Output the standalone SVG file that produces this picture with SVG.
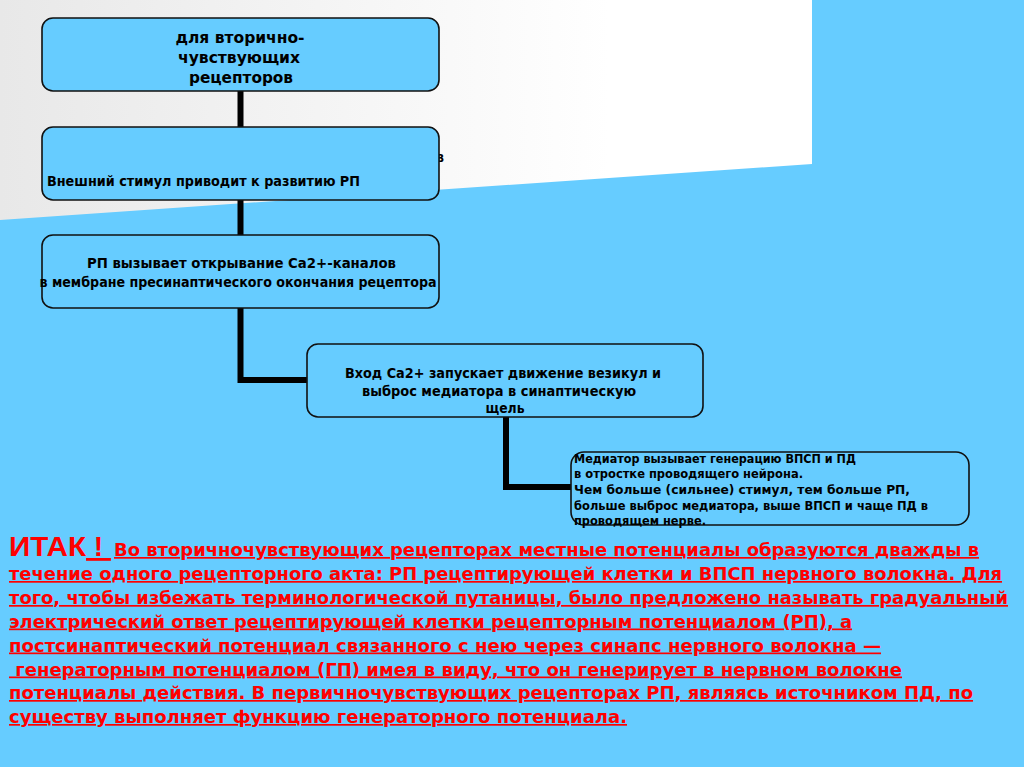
<svg xmlns="http://www.w3.org/2000/svg" width="1024" height="767" viewBox="0 0 1024 767">
<defs>
<linearGradient id="wg" x1="0" y1="0" x2="1" y2="0">
<stop offset="0" stop-color="#e8e8e8"/>
<stop offset="0.75" stop-color="#ffffff"/>
<stop offset="1" stop-color="#ffffff"/>
</linearGradient>
<style>
.box{fill:#66CCFF;stroke:#111;stroke-width:1.6}
.bt{font-family:"DejaVu Sans Condensed","Liberation Sans Narrow","Liberation Sans",sans-serif;font-weight:bold;font-size:14px;fill:#000}
.bt1{font-size:16px}
.st{font-family:"DejaVu Sans","Liberation Sans",sans-serif;font-weight:bold;font-size:12px;fill:#000}
.rt{font-family:"DejaVu Sans","Liberation Sans",sans-serif;font-weight:bold;font-size:17px;fill:#ff0000;text-decoration:underline}
.big{font-family:"Liberation Sans",Arial,sans-serif;font-weight:bold;font-size:28px;fill:#ff0000}
</style>
</defs>
<rect x="0" y="0" width="1024" height="767" fill="#66CCFF"/>
<polygon points="0,0 812,0 812,164 0,220" fill="url(#wg)"/>
<g id="connectors" stroke="#000" stroke-width="6" fill="none">
<line x1="240.5" y1="90" x2="240.5" y2="127"/>
<line x1="240.5" y1="200" x2="240.5" y2="236"/>
<polyline points="240.5,308 240.5,380 307,380"/>
<polyline points="506,417 506,487 571,487"/>
</g>
<g id="node1">
<rect class="box" x="42" y="18" width="397" height="73" rx="11"/>
<text class="bt bt1" x="240" y="43" text-anchor="middle" textLength="129" lengthAdjust="spacingAndGlyphs">для вторично-</text>
<text class="bt bt1" x="239" y="63" text-anchor="middle" textLength="122" lengthAdjust="spacingAndGlyphs">чувствующих</text>
<text class="bt bt1" x="241" y="83" text-anchor="middle" textLength="104" lengthAdjust="spacingAndGlyphs">рецепторов</text>
</g>
<g id="node2">
<text class="bt" x="436" y="162">в</text>
<rect class="box" x="42" y="127" width="397" height="73" rx="11"/>
<text class="bt" x="47" y="186" textLength="313" lengthAdjust="spacingAndGlyphs">Внешний стимул приводит к развитию РП</text>
</g>
<g id="node3">
<rect class="box" x="42" y="235" width="397" height="73" rx="11"/>
<text class="bt" x="241.5" y="268" text-anchor="middle" textLength="309" lengthAdjust="spacingAndGlyphs">РП вызывает открывание Са2+-каналов</text>
<text class="bt" x="238" y="287" text-anchor="middle" textLength="397" lengthAdjust="spacingAndGlyphs">в мембране пресинаптического окончания рецептора</text>
</g>
<g id="node4">
<rect class="box" x="307" y="344" width="396" height="73" rx="11"/>
<text class="bt" x="503" y="378" text-anchor="middle" textLength="316" lengthAdjust="spacingAndGlyphs">Вход Са2+ запускает движение везикул и</text>
<text class="bt" x="499" y="396" text-anchor="middle" textLength="274" lengthAdjust="spacingAndGlyphs">выброс медиатора в синаптическую</text>
<text class="bt" x="505" y="413" text-anchor="middle" textLength="39" lengthAdjust="spacingAndGlyphs">щель</text>
</g>
<g id="node5">
<rect class="box" x="571" y="452" width="398" height="73" rx="13"/>
<text class="st" x="574" y="463" textLength="282" lengthAdjust="spacingAndGlyphs">Медиатор вызывает генерацию ВПСП и ПД</text>
<text class="st" x="574" y="478" textLength="229" lengthAdjust="spacingAndGlyphs">в отростке проводящего нейрона.</text>
<text class="st" x="574" y="494" textLength="336" lengthAdjust="spacingAndGlyphs">Чем больше (сильнее) стимул, тем больше РП,</text>
<text class="st" x="574" y="510" textLength="354" lengthAdjust="spacingAndGlyphs">больше выброс медиатора, выше ВПСП и чаще ПД в</text>
<text class="st" x="574" y="525" textLength="132" lengthAdjust="spacingAndGlyphs">проводящем нерве.</text>
</g>
<g id="summary">
<text class="big" x="9" y="556" textLength="77" lengthAdjust="spacingAndGlyphs">ИТАК</text>
<text class="big" x="86" y="556" style="text-decoration:underline" xml:space="preserve"> ! </text>
<text class="rt" x="114" y="556" textLength="865" lengthAdjust="spacingAndGlyphs">Во вторичночувствующих рецепторах местные потенциалы образуются дважды в</text>
<text class="rt" x="9" y="580" textLength="993" lengthAdjust="spacingAndGlyphs">течение одного рецепторного акта: РП рецептирующей клетки и ВПСП нервного волокна. Для</text>
<text class="rt" x="9" y="604" textLength="999" lengthAdjust="spacingAndGlyphs">того, чтобы избежать терминологической путаницы, было предложено называть градуальный</text>
<text class="rt" x="9" y="627.5" textLength="843" lengthAdjust="spacingAndGlyphs">электрический ответ рецептирующей клетки рецепторным потенциалом (РП), а</text>
<text class="rt" x="9" y="651.5" textLength="872" lengthAdjust="spacingAndGlyphs">постсинаптический потенциал связанного с нею через синапс нервного волокна —</text>
<text class="rt" x="9" y="675.5" textLength="893" lengthAdjust="spacingAndGlyphs" xml:space="preserve"> генераторным потенциалом (ГП) имея в виду, что он генерирует в нервном волокне</text>
<text class="rt" x="9" y="699" textLength="964" lengthAdjust="spacingAndGlyphs">потенциалы действия. В первичночувствующих рецепторах РП, являясь источником ПД, по</text>
<text class="rt" x="9" y="723" textLength="618" lengthAdjust="spacingAndGlyphs">существу выполняет функцию генераторного потенциала.</text>
</g>
</svg>
